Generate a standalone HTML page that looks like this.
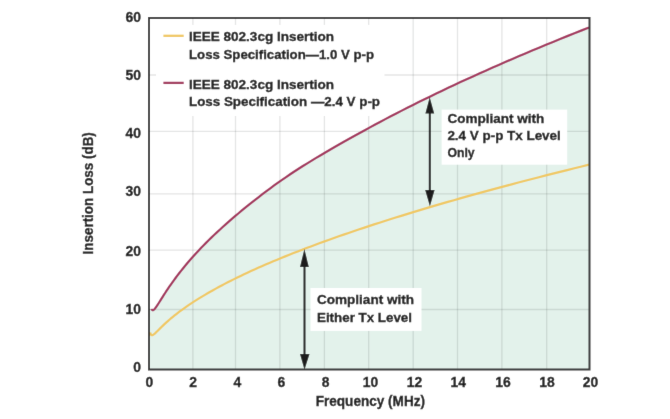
<!DOCTYPE html>
<html><head><meta charset="utf-8"><style>
html,body{margin:0;padding:0;background:#fff;}
svg{display:block;will-change:transform;}
</style></head><body>
<svg width="670" height="419" viewBox="0 0 670 419">
<defs><filter id="bl" filterUnits="userSpaceOnUse" x="0" y="0" width="670" height="419"><feConvolveMatrix order="3" kernelMatrix="0.00524 0.06192 0.00524 0.06192 0.73137 0.06192 0.00524 0.06192 0.00524" divisor="1" edgeMode="duplicate" preserveAlpha="true"/></filter></defs>
<g filter="url(#bl)">
<rect width="670" height="419" fill="#fff"/>
<path d="M150.00,369.50 L150.00,308.86 L151.50,308.86 L151.53,308.94 L151.62,309.15 L151.78,309.45 L151.99,309.77 L152.27,310.03 L152.61,310.18 L153.01,310.16 L153.48,309.97 L154.00,309.57 L154.59,308.99 L155.24,308.21 L155.95,307.26 L156.72,306.15 L157.56,304.89 L158.45,303.50 L159.41,301.98 L160.43,300.36 L161.51,298.63 L162.65,296.82 L163.86,294.93 L165.12,292.97 L166.45,290.94 L167.84,288.86 L169.30,286.72 L170.81,284.53 L172.38,282.30 L174.02,280.03 L175.72,277.73 L177.48,275.39 L179.31,273.02 L181.19,270.62 L183.14,268.20 L185.14,265.75 L187.21,263.28 L189.35,260.79 L191.54,258.28 L193.79,255.76 L196.11,253.21 L198.49,250.65 L200.93,248.08 L203.43,245.49 L206.00,242.89 L208.62,240.27 L211.31,237.65 L214.06,235.01 L216.87,232.36 L219.75,229.70 L222.68,227.02 L225.68,224.33 L228.74,221.64 L231.86,218.93 L235.04,216.20 L238.28,213.47 L241.59,210.72 L244.96,207.95 L248.39,205.18 L251.88,202.39 L255.43,199.58 L259.04,196.77 L262.72,193.95 L266.46,191.13 L270.26,188.30 L274.12,185.48 L278.04,182.65 L282.03,179.84 L286.08,177.05 L290.19,174.26 L294.36,171.50 L298.59,168.75 L302.88,166.02 L307.24,163.31 L311.66,160.60 L316.14,157.90 L320.68,155.20 L325.28,152.50 L329.95,149.79 L334.67,147.06 L339.46,144.32 L344.31,141.57 L349.23,138.80 L354.20,136.02 L359.24,133.23 L364.33,130.42 L369.49,127.61 L374.71,124.79 L380.00,121.96 L385.34,119.14 L390.75,116.30 L396.22,113.47 L401.75,110.63 L407.34,107.79 L412.99,104.94 L418.71,102.10 L424.49,99.25 L430.32,96.40 L436.23,93.55 L442.19,90.70 L448.21,87.84 L454.30,84.98 L460.45,82.12 L466.66,79.26 L472.93,76.40 L479.26,73.54 L485.66,70.67 L492.11,67.80 L498.63,64.93 L505.21,62.06 L511.86,59.19 L518.56,56.31 L525.33,53.43 L532.15,50.56 L539.04,47.68 L545.99,44.80 L553.01,41.91 L560.08,39.03 L567.22,36.14 L574.42,33.25 L581.68,30.36 L589.00,27.47 L589.00,369.50 Z" fill="#e3f2eb"/>
<g stroke="rgba(30,45,40,0.12)" stroke-width="1.3" fill="none"><line x1="192.9" y1="18" x2="192.9" y2="369.5"/><line x1="235.5" y1="18" x2="235.5" y2="369.5"/><line x1="279.9" y1="18" x2="279.9" y2="369.5"/><line x1="324.4" y1="18" x2="324.4" y2="369.5"/><line x1="368.7" y1="18" x2="368.7" y2="369.5"/><line x1="413.2" y1="18" x2="413.2" y2="369.5"/><line x1="457.5" y1="18" x2="457.5" y2="369.5"/><line x1="501.9" y1="18" x2="501.9" y2="369.5"/><line x1="546.7" y1="18" x2="546.7" y2="369.5"/><line x1="149" y1="75.0" x2="589.5" y2="75.0"/><line x1="149" y1="131.4" x2="589.5" y2="131.4"/><line x1="149" y1="193.8" x2="589.5" y2="193.8"/><line x1="149" y1="250.2" x2="589.5" y2="250.2"/><line x1="149" y1="309.5" x2="589.5" y2="309.5"/></g>
<rect x="156" y="24.9" width="228.5" height="91.1" fill="#fff"/><line x1="163.4" y1="35.8" x2="183.7" y2="35.8" stroke="#f0c862" stroke-width="2.3"/><line x1="163.4" y1="82.9" x2="183.7" y2="82.9" stroke="#a3325c" stroke-width="2.3"/>
<path d="M150.30,332.37 L150.33,332.53 L150.42,332.96 L150.58,333.54 L150.80,334.13 L151.07,334.65 L151.42,335.01 L151.82,335.19 L152.28,335.19 L152.81,335.01 L153.40,334.67 L154.05,334.19 L154.76,333.59 L155.54,332.88 L156.37,332.07 L157.27,331.18 L158.23,330.23 L159.25,329.20 L160.34,328.13 L161.48,327.01 L162.69,325.84 L163.96,324.64 L165.29,323.41 L166.69,322.14 L168.14,320.85 L169.66,319.53 L171.24,318.19 L172.88,316.83 L174.59,315.45 L176.35,314.06 L178.18,312.64 L180.07,311.22 L182.02,309.78 L184.04,308.33 L186.11,306.87 L188.25,305.39 L190.45,303.91 L192.71,302.42 L195.03,300.91 L197.42,299.40 L199.87,297.88 L202.38,296.36 L204.95,294.82 L207.58,293.28 L210.28,291.73 L213.03,290.18 L215.85,288.62 L218.73,287.05 L221.68,285.48 L224.68,283.90 L227.75,282.32 L230.88,280.73 L234.07,279.14 L237.32,277.54 L240.64,275.94 L244.01,274.34 L247.45,272.72 L250.95,271.11 L254.51,269.49 L258.14,267.87 L261.83,266.24 L265.57,264.61 L269.39,262.97 L273.26,261.33 L277.19,259.69 L281.19,258.04 L285.25,256.39 L289.37,254.74 L293.55,253.08 L297.79,251.42 L302.10,249.76 L306.47,248.09 L310.90,246.42 L315.39,244.75 L319.94,243.07 L324.56,241.39 L329.24,239.71 L333.98,238.02 L338.78,236.33 L343.64,234.64 L348.57,232.94 L353.56,231.24 L358.61,229.54 L363.72,227.84 L368.89,226.13 L374.13,224.42 L379.42,222.71 L384.78,220.99 L390.20,219.27 L395.69,217.55 L401.23,215.83 L406.84,214.10 L412.51,212.37 L418.24,210.64 L424.03,208.90 L429.89,207.16 L435.81,205.42 L441.79,203.68 L447.83,201.93 L453.93,200.19 L460.09,198.43 L466.32,196.68 L472.61,194.92 L478.96,193.16 L485.37,191.40 L491.85,189.64 L498.39,187.87 L504.98,186.10 L511.64,184.33 L518.37,182.55 L525.15,180.78 L532.00,179.00 L538.91,177.21 L545.88,175.43 L552.91,173.64 L560.00,171.85 L567.16,170.06 L574.38,168.27 L581.66,166.47 L589.00,164.67" fill="none" stroke="#f0c862" stroke-width="2.2" stroke-linejoin="round"/>
<path d="M151.50,308.86 L151.53,308.94 L151.62,309.15 L151.78,309.45 L151.99,309.77 L152.27,310.03 L152.61,310.18 L153.01,310.16 L153.48,309.97 L154.00,309.57 L154.59,308.99 L155.24,308.21 L155.95,307.26 L156.72,306.15 L157.56,304.89 L158.45,303.50 L159.41,301.98 L160.43,300.36 L161.51,298.63 L162.65,296.82 L163.86,294.93 L165.12,292.97 L166.45,290.94 L167.84,288.86 L169.30,286.72 L170.81,284.53 L172.38,282.30 L174.02,280.03 L175.72,277.73 L177.48,275.39 L179.31,273.02 L181.19,270.62 L183.14,268.20 L185.14,265.75 L187.21,263.28 L189.35,260.79 L191.54,258.28 L193.79,255.76 L196.11,253.21 L198.49,250.65 L200.93,248.08 L203.43,245.49 L206.00,242.89 L208.62,240.27 L211.31,237.65 L214.06,235.01 L216.87,232.36 L219.75,229.70 L222.68,227.02 L225.68,224.33 L228.74,221.64 L231.86,218.93 L235.04,216.20 L238.28,213.47 L241.59,210.72 L244.96,207.95 L248.39,205.18 L251.88,202.39 L255.43,199.58 L259.04,196.77 L262.72,193.95 L266.46,191.13 L270.26,188.30 L274.12,185.48 L278.04,182.65 L282.03,179.84 L286.08,177.05 L290.19,174.26 L294.36,171.50 L298.59,168.75 L302.88,166.02 L307.24,163.31 L311.66,160.60 L316.14,157.90 L320.68,155.20 L325.28,152.50 L329.95,149.79 L334.67,147.06 L339.46,144.32 L344.31,141.57 L349.23,138.80 L354.20,136.02 L359.24,133.23 L364.33,130.42 L369.49,127.61 L374.71,124.79 L380.00,121.96 L385.34,119.14 L390.75,116.30 L396.22,113.47 L401.75,110.63 L407.34,107.79 L412.99,104.94 L418.71,102.10 L424.49,99.25 L430.32,96.40 L436.23,93.55 L442.19,90.70 L448.21,87.84 L454.30,84.98 L460.45,82.12 L466.66,79.26 L472.93,76.40 L479.26,73.54 L485.66,70.67 L492.11,67.80 L498.63,64.93 L505.21,62.06 L511.86,59.19 L518.56,56.31 L525.33,53.43 L532.15,50.56 L539.04,47.68 L545.99,44.80 L553.01,41.91 L560.08,39.03 L567.22,36.14 L574.42,33.25 L581.68,30.36 L589.00,27.47" fill="none" stroke="#a3325c" stroke-width="2.2" stroke-linejoin="round"/>
<rect x="441.6" y="109.6" width="125.6" height="55.1" fill="#fff"/><rect x="310.5" y="288" width="111" height="42.9" fill="#fff"/>
<line x1="429.8" y1="110" x2="429.8" y2="192" stroke="#1e1e1e" stroke-width="2"/><path d="M429.7,97.3 L425.4,113.6 L434.2,113.6 Z" fill="#1e1e1e"/><path d="M429.9,206.3 L425.2,190.0 L434.6,190.0 Z" fill="#1e1e1e"/><line x1="304.5" y1="262" x2="304.5" y2="356" stroke="#1e1e1e" stroke-width="2"/><path d="M304.4,249 L300.0,266.9 L308.8,266.9 Z" fill="#1e1e1e"/><path d="M304.5,369.7 L300,353.9 L309.5,353.9 Z" fill="#1e1e1e"/>
<rect x="149" y="18" width="440.5" height="351.5" fill="none" stroke="#353535" stroke-width="2"/>
<g font-family="Liberation Sans, sans-serif" font-weight="bold" fill="#1c1c1c" stroke="#1c1c1c" stroke-width="0.35">
<text x="141" y="21.60" text-anchor="end" font-size="13.9">60</text><text x="141" y="80.10" text-anchor="end" font-size="13.9">50</text><text x="141" y="138.20" text-anchor="end" font-size="13.9">40</text><text x="141" y="196.30" text-anchor="end" font-size="13.9">30</text><text x="141" y="255.55" text-anchor="end" font-size="13.9">20</text><text x="141" y="313.70" text-anchor="end" font-size="13.9">10</text><text x="141" y="372.05" text-anchor="end" font-size="13.9">0</text><text x="149.40" y="386.8" text-anchor="middle" font-size="13.9">0</text><text x="193.00" y="386.8" text-anchor="middle" font-size="13.9">2</text><text x="237.30" y="386.8" text-anchor="middle" font-size="13.9">4</text><text x="281.40" y="386.8" text-anchor="middle" font-size="13.9">6</text><text x="325.60" y="386.8" text-anchor="middle" font-size="13.9">8</text><text x="370.40" y="386.8" text-anchor="middle" font-size="13.9">10</text><text x="414.40" y="386.8" text-anchor="middle" font-size="13.9">12</text><text x="458.30" y="386.8" text-anchor="middle" font-size="13.9">14</text><text x="502.90" y="386.8" text-anchor="middle" font-size="13.9">16</text><text x="546.90" y="386.8" text-anchor="middle" font-size="13.9">18</text><text x="590.60" y="386.8" text-anchor="middle" font-size="13.9">20</text>
<text x="189" y="41.1" font-size="13.2" textLength="145" lengthAdjust="spacingAndGlyphs">IEEE 802.3cg Insertion</text><text x="189" y="58.5" font-size="13.2" textLength="185" lengthAdjust="spacingAndGlyphs">Loss Specification—1.0 V p-p</text><text x="189" y="89.2" font-size="13.2" textLength="145" lengthAdjust="spacingAndGlyphs">IEEE 802.3cg Insertion</text><text x="189" y="106.2" font-size="13.2" textLength="191" lengthAdjust="spacingAndGlyphs">Loss Specification —2.4 V p-p</text><text x="447.4" y="122.6" font-size="13.2" textLength="97" lengthAdjust="spacingAndGlyphs">Compliant with</text><text x="447.4" y="139.9" font-size="13.2" textLength="113.4" lengthAdjust="spacingAndGlyphs">2.4 V p-p Tx Level</text><text x="447.4" y="157.1" font-size="13.2" textLength="27.2" lengthAdjust="spacingAndGlyphs">Only</text><text x="317" y="304.3" font-size="13.2" textLength="97" lengthAdjust="spacingAndGlyphs">Compliant with</text><text x="317" y="321.8" font-size="13.2" textLength="95" lengthAdjust="spacingAndGlyphs">Either Tx Level</text><text x="315.7" y="406.0" font-size="14.2" textLength="109.3" lengthAdjust="spacingAndGlyphs">Frequency (MHz)</text><text transform="translate(93.2,254.4) rotate(-90)" font-size="14.2" textLength="122.2" lengthAdjust="spacingAndGlyphs">Insertion Loss (dB)</text>
</g>
</g>
</svg>
</body></html>
